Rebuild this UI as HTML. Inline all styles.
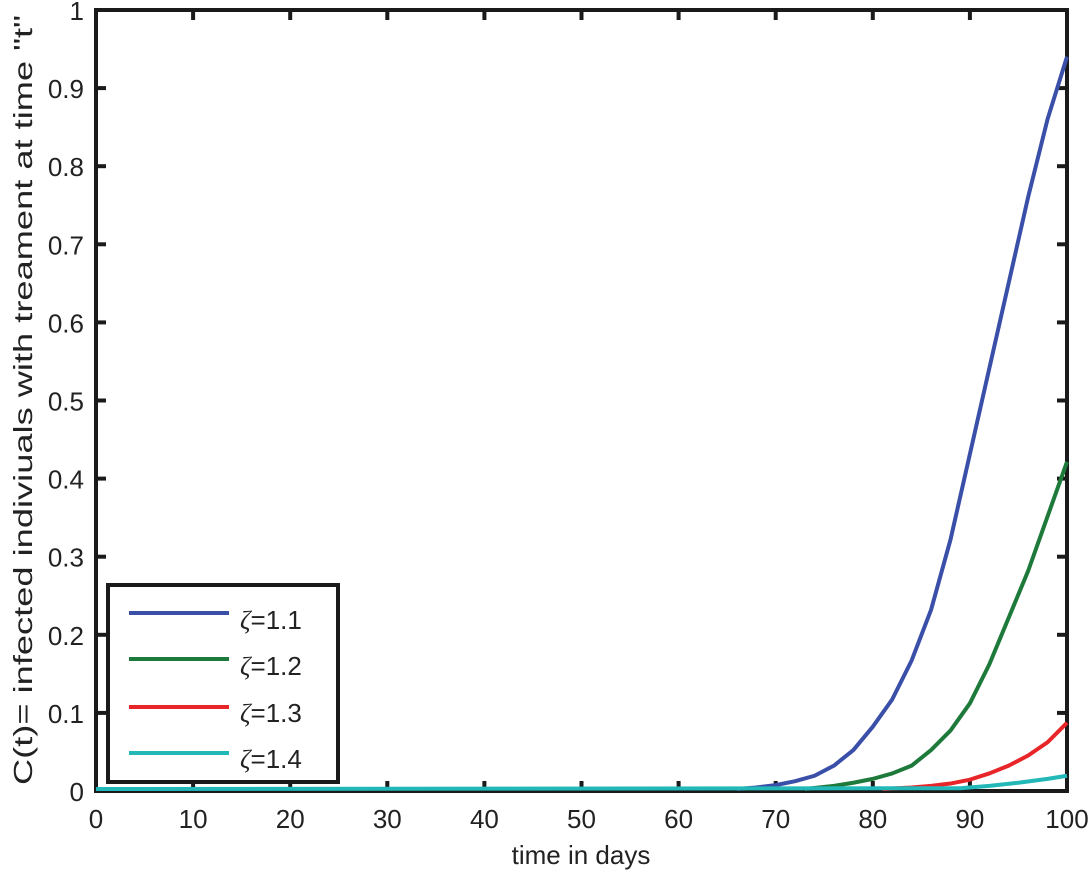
<!DOCTYPE html><html><head><style>body{margin:0;background:#fff}svg{display:block}text{font-family:"Liberation Sans",sans-serif;fill:#222}</style></head><body>
<svg id="s" width="1091" height="874" xmlns="http://www.w3.org/2000/svg">
<rect width="1091" height="874" fill="#fff"/>
<rect x="96" y="10" width="971" height="781" fill="none" stroke="#1a1a1a" stroke-width="4"/>
<g id="ticks" stroke="#1a1a1a" stroke-width="4"></g>
<g id="curves" fill="none" stroke-width="4" stroke-linejoin="round"></g>
<g id="labels" font-size="26"></g>
<text x="581" y="864" font-size="26" text-anchor="middle">time in days</text>
<text transform="translate(32,400) rotate(-90)" font-size="26" text-anchor="middle" textLength="770" lengthAdjust="spacingAndGlyphs">C(t)= infected indiviuals with treament at time "t"</text>
<rect x="108" y="585" width="230" height="197" fill="#fff" stroke="#1a1a1a" stroke-width="4"/>
<g stroke-width="4">
<line x1="129" y1="613" x2="229" y2="613" stroke="#3a4fa8"/>
<line x1="129" y1="659" x2="229" y2="659" stroke="#1e7a3a"/>
<line x1="129" y1="707" x2="229" y2="707" stroke="#e8262a"/>
<line x1="129" y1="753" x2="229" y2="753" stroke="#22b8b8"/>
</g>
<g font-size="26"><text x="240" y="629"><tspan font-style="italic" font-family="Liberation Serif">ζ</tspan>=1.1</text>
<text x="240" y="675"><tspan font-style="italic" font-family="Liberation Serif">ζ</tspan>=1.2</text>
<text x="240" y="722"><tspan font-style="italic" font-family="Liberation Serif">ζ</tspan>=1.3</text>
<text x="240" y="768"><tspan font-style="italic" font-family="Liberation Serif">ζ</tspan>=1.4</text></g>
</svg>
<script>
var X=t=>96+t*9.71,Y=v=>789-v*779,NS="http://www.w3.org/2000/svg";
function pl(pts,c){var p=document.createElementNS(NS,"polyline");p.setAttribute("points",pts.map(a=>X(a[0])+","+Y(a[1])).join(" "));p.setAttribute("stroke",c);document.getElementById("curves").appendChild(p);}
pl([[66,0],[68,.002],[70,.005],[72,.01],[74,.017],[76,.03],[78,.05],[80,.08],[82,.115],[84,.165],[86,.23],[88,.32],[90,.43],[92,.54],[94,.65],[96,.76],[98,.86],[100,.94]],"#3a4fa8");
pl([[73,0],[76,.004],[78,.008],[80,.013],[82,.02],[84,.03],[86,.05],[88,.075],[90,.11],[92,.16],[94,.22],[96,.28],[98,.35],[100,.42]],"#1e7a3a");
pl([[81,0],[84,.002],[86,.004],[88,.007],[90,.012],[92,.02],[94,.03],[96,.043],[98,.06],[100,.085]],"#e8262a");
pl([[0,0],[89,.001],[92,.004],[95,.008],[98,.013],[100,.017]],"#22b8b8");
var tk=document.getElementById("ticks"),lb=document.getElementById("labels"),h="";
for(var i=0;i<=10;i++){var x=X(i*10);h+='<line x1="'+x+'" y1="791" x2="'+x+'" y2="781"/><line x1="'+x+'" y1="10" x2="'+x+'" y2="20"/>';
var y=791-i*78.1;h+='<line x1="96" y1="'+y+'" x2="106" y2="'+y+'"/><line x1="1067" y1="'+y+'" x2="1057" y2="'+y+'"/>';}
tk.innerHTML=h;h="";
for(var i=0;i<=10;i++){h+='<text x="'+X(i*10)+'" y="828" text-anchor="middle">'+(i*10)+'</text>';
h+='<text x="84" y="'+(791-i*78.1+10)+'" text-anchor="end">'+(i==0?"0":i==10?"1":"0."+i)+'</text>';}
lb.innerHTML=h;
</script>
</body></html>
